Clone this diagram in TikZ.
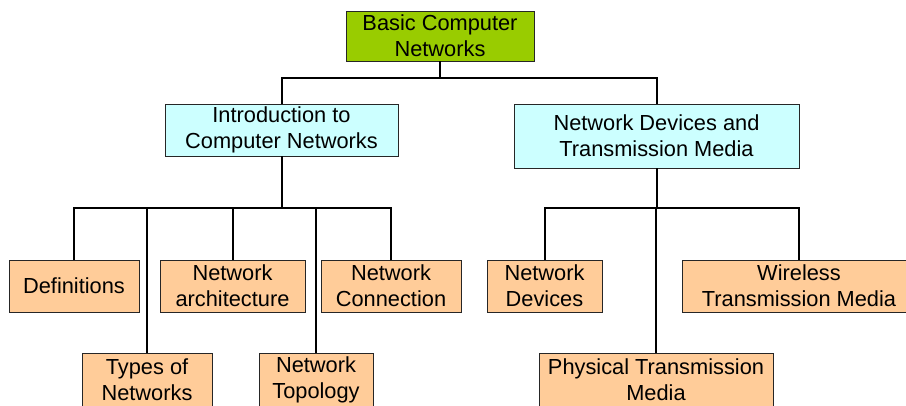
\documentclass[tikz,border=0pt]{standalone}
\usepackage{fontspec}
\setmainfont{Liberation Sans}
\definecolor{rootgreen}{HTML}{99CC00}
\definecolor{midcyan}{HTML}{CCFFFF}
\definecolor{leafpeach}{HTML}{FFCC99}
\begin{document}
\begin{tikzpicture}[x=1pt,y=-1pt,
  box/.style={draw=black!85, line width=0.8pt, inner sep=0pt, align=center,
    font=\fontsize{21.8}{26}\selectfont},
  rootbox/.style={box, fill=rootgreen},
  midbox/.style={box, fill=midcyan},
  leafbox/.style={box, fill=leafpeach},
  link/.style={draw=black, line width=2pt}]
\useasboundingbox (0,0) rectangle (906,405);
% top
\node[rootbox, minimum width=188pt, minimum height=50pt] (root) at (440,36) {Basic Computer\\Networks};
\node[midbox, minimum width=233pt, minimum height=52pt] (intro) at (281.5,130) {Introduction to\\Computer Networks};
\node[midbox, minimum width=285pt, minimum height=64pt] (netdev) at (656.5,136) {Network Devices and\\Transmission Media};
% leaves left
\node[leafbox, minimum width=130pt, minimum height=52pt] (defs) at (74,286) {Definitions};
\node[leafbox, minimum width=145pt, minimum height=52pt] (arch) at (232.5,286) {Network\\architecture};
\node[leafbox, minimum width=140pt, minimum height=52pt] (conn) at (391,286) {Network\\Connection};
\node[leafbox, minimum width=130pt, minimum height=54pt] (types) at (147,380) {Types of\\Networks};
\node[leafbox, minimum width=114pt, minimum height=54pt] (topo) at (316,380) {Network\\Topology};
% leaves right
\node[leafbox, minimum width=115pt, minimum height=52pt] (devs) at (544.5,286) {Network\\Devices};
\node[leafbox, minimum width=234pt, minimum height=52pt] (wire) at (799,286) {Wireless\\Transmission Media};
\node[leafbox, minimum width=234pt, minimum height=54pt] (phys) at (656,380) {Physical Transmission\\Media};
% connectors
\coordinate (rb) at (440,78);
\coordinate (ib) at (281.5,208);
\coordinate (nb) at (656.5,208);
\draw[link] (root.south) -- (rb);
\draw[link] (rb) -| (intro.north);
\draw[link] (rb) -| (netdev.north);
\draw[link] (intro.south) -- (ib);
\draw[link] (ib) -| (defs.north);
\draw[link] (ib) -| (types.north);
\draw[link] (ib) -| (arch.north);
\draw[link] (ib) -| (topo.north);
\draw[link] (ib) -| (conn.north);
\draw[link] (netdev.south) -- (nb);
\draw[link] (nb) -| (devs.north);
\draw[link] (nb) -| (phys.north);
\draw[link] (nb) -| (wire.north);
\end{tikzpicture}
\end{document}
